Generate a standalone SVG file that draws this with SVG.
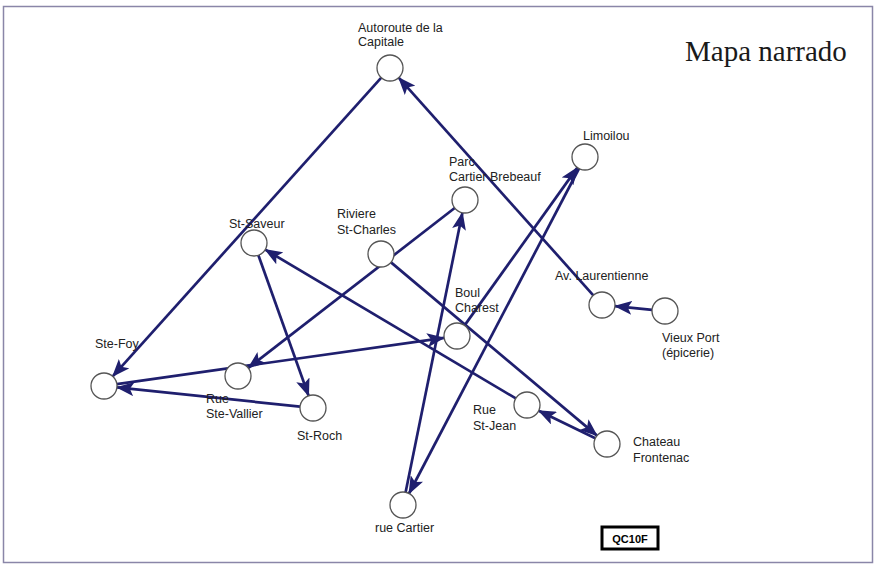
<svg xmlns="http://www.w3.org/2000/svg" width="877" height="565" viewBox="0 0 877 565">
<style>
.node circle{fill:#fff;stroke:#555;stroke-width:1.3}
.lbl{font-family:"Liberation Sans",Arial,sans-serif;font-size:12.5px;fill:#222}
.edge{stroke:#1f1f6e;stroke-width:2.7;fill:none;marker-end:url(#ah)}
.title{font-family:"Liberation Serif","Times New Roman",serif;font-size:29px;fill:#1a1a1a}
</style>
<defs>
<marker id="ah" markerUnits="userSpaceOnUse" markerWidth="18" markerHeight="14" refX="17" refY="7" orient="auto">
<path d="M0,0 L18,7 L0,14 L4,7 z" fill="#1f1f6e"/>
</marker>
</defs>
<rect x="0" y="0" width="877" height="565" fill="#fff"/>
<rect x="3.5" y="6.5" width="869" height="556" fill="none" stroke="#8a86a8" stroke-width="1.5"/>
<text class="title" x="685" y="61">Mapa narrado</text>
<g id="connectors">
<line class="edge" x1="381.3" y1="77.7" x2="112.7" y2="376.3"/>
<line class="edge" x1="593.3" y1="295.3" x2="398.7" y2="77.7"/>
<line class="edge" x1="652.1" y1="309.8" x2="614.9" y2="306.2"/>
<line class="edge" x1="116.9" y1="384.2" x2="444.1" y2="337.8"/>
<line class="edge" x1="464.6" y1="325.4" x2="577.4" y2="167.6"/>
<line class="edge" x1="579" y1="168.5" x2="409" y2="493.5"/>
<line class="edge" x1="405.6" y1="492.3" x2="462.4" y2="212.7"/>
<line class="edge" x1="454.7" y1="208" x2="248.3" y2="368"/>
<line class="edge" x1="258.4" y1="255.2" x2="308.6" y2="395.8"/>
<line class="edge" x1="300.1" y1="406.6" x2="116.9" y2="387.4"/>
<line class="edge" x1="515.8" y1="398.4" x2="265.2" y2="249.6"/>
<line class="edge" x1="391" y1="262.4" x2="597" y2="435.6"/>
<line class="edge" x1="595.3" y1="438.3" x2="538.7" y2="410.7"/>
</g>
<g id="autoroute" class="node"><circle cx="390" cy="68" r="13"/><text class="lbl" x="358" y="32">Autoroute de la</text><text class="lbl" x="358" y="46">Capitale</text></g>
<g id="limoilou" class="node"><circle cx="585" cy="157" r="13"/><text class="lbl" x="583" y="140">Limoilou</text></g>
<g id="parc" class="node"><circle cx="465" cy="200" r="13"/><text class="lbl" x="449" y="166">Parc</text><text class="lbl" x="449" y="181">Cartier Brebeauf</text></g>
<g id="stsaveur" class="node"><circle cx="254" cy="243" r="13"/><text class="lbl" x="229" y="228">St-Saveur</text></g>
<g id="riviere" class="node"><circle cx="381" cy="254" r="13"/><text class="lbl" x="337" y="218">Riviere</text><text class="lbl" x="337" y="234">St-Charles</text></g>
<g id="laurentienne" class="node"><circle cx="602" cy="305" r="13"/><text class="lbl" x="555" y="280">Av. Laurentienne</text></g>
<g id="vieuxport" class="node"><circle cx="665" cy="311" r="13"/><text class="lbl" x="662" y="342">Vieux Port</text><text class="lbl" x="662" y="357">(épicerie)</text></g>
<g id="charest" class="node"><circle cx="457" cy="336" r="13"/><text class="lbl" x="455" y="297">Boul</text><text class="lbl" x="455" y="312">Charest</text></g>
<g id="stefoy" class="node"><circle cx="104" cy="386" r="13"/><text class="lbl" x="95" y="348">Ste-Foy</text></g>
<g id="stevallier" class="node"><circle cx="238" cy="376" r="13"/><text class="lbl" x="206" y="403">Rue</text><text class="lbl" x="206" y="418">Ste-Vallier</text></g>
<g id="stroch" class="node"><circle cx="313" cy="408" r="13"/><text class="lbl" x="297" y="440">St-Roch</text></g>
<g id="stjean" class="node"><circle cx="527" cy="405" r="13"/><text class="lbl" x="473" y="414">Rue</text><text class="lbl" x="473" y="430">St-Jean</text></g>
<g id="chateau" class="node"><circle cx="607" cy="444" r="13"/><text class="lbl" x="633" y="446">Chateau</text><text class="lbl" x="633" y="462">Frontenac</text></g>
<g id="ruecartier" class="node"><circle cx="403" cy="505" r="13"/><text class="lbl" x="375" y="532">rue Cartier</text></g>
<g id="qc10f"><rect x="602" y="527" width="56" height="22" fill="#fff" stroke="#000" stroke-width="3"/><text x="630" y="542.5" text-anchor="middle" font-family="Liberation Sans,Arial,sans-serif" font-weight="bold" font-size="11" fill="#000">QC10F</text></g>
</svg>
